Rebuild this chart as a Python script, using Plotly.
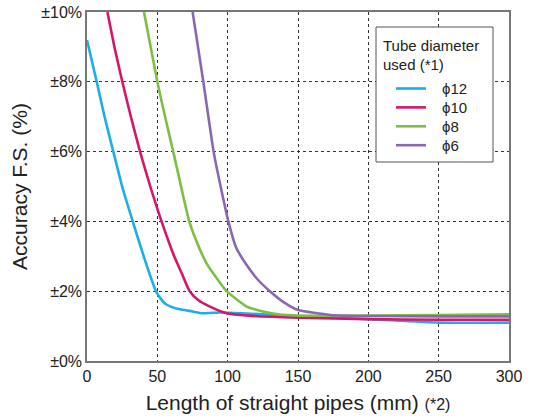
import plotly.graph_objects as go

# ---- data ----
x12 = [0, 6.9, 12.5, 18.7, 25, 32.5, 41.2, 49, 52.5, 55.4, 60, 66, 75, 82, 95, 110, 150, 200, 250, 300]
y12 = [9.2, 8.0, 7.0, 6.0, 5.0, 4.0, 2.89, 2.0, 1.78, 1.65, 1.55, 1.48, 1.42, 1.37, 1.39, 1.37, 1.28, 1.20, 1.10, 1.10]

x10 = [14.5, 19.5, 25.1, 31.2, 37.7, 45, 53, 62, 67.5, 73, 79, 87.4, 99.3, 115, 150, 200, 250, 300]
y10 = [10, 9, 8, 7, 6, 5, 4, 3.0, 2.5, 2.0, 1.75, 1.56, 1.37, 1.30, 1.24, 1.20, 1.18, 1.18]

x8 = [40.5, 50, 55.5, 61.3, 66.1, 72.7, 80, 85, 89.8, 99.3, 113.5, 125, 137, 150, 200, 250, 300]
y8 = [10, 8, 7, 6, 5.14, 4, 3.22, 2.8, 2.51, 2.0, 1.56, 1.42, 1.33, 1.30, 1.30, 1.32, 1.34]

x6 = [75.1, 82.7, 90, 95, 100.5, 106, 113.5, 121, 130, 140, 150.2, 173, 200, 250, 300]
y6 = [10, 8, 6, 5, 4, 3.25, 2.75, 2.35, 2.0, 1.68, 1.46, 1.32, 1.29, 1.28, 1.28]

series_names = ["ϕ12", "ϕ10", "ϕ8", "ϕ6"]
series_colors = ["#1AAFE6", "#D4176A", "#7BC043", "#8967B2"]

y_tickvals = [0, 2, 4, 6, 8, 10]
y_ticktext = ["±0%", "±2%", "±4%", "±6%", "±8%", "±10%"]
x_tickvals = [0, 50, 100, 150, 200, 250, 300]

legend_title = ["Tube diameter", "used (*1)"]

FONT = "Liberation Sans, Arial, sans-serif"
TXT = "#222"

W, H = 534, 419
# target plot area in window pixels: x 87..509, y 12..361 (body margin removed below)
ML, MR, MT, MB = 87, W - 509, 12, H - 361
PW, PH = W - ML - MR, H - MT - MB


def px(xw):
    # window pixel x -> paper fraction
    return (xw - ML) / PW


def py(yw):
    # window pixel y -> paper fraction
    return (H - MB - yw) / PH


fig = go.Figure()
for xs, ys, name, col in zip([x12, x10, x8, x6], [y12, y10, y8, y6], series_names, series_colors):
    fig.add_trace(go.Scatter(x=xs, y=ys, name=name, mode="lines", showlegend=False,
                             line=dict(color=col, width=2.6, shape="spline", smoothing=0.5)))

# ---- legend box (drawn manually to match the reference layout) ----
shapes = [dict(type="rect", xref="paper", yref="paper", x0=px(376), x1=px(493), y0=py(162), y1=py(27),
               fillcolor="white", line=dict(color="#555", width=1), layer="above")]
annotations = []
for i, t in enumerate(legend_title):
    annotations.append(dict(text=t, xref="paper", yref="paper", x=px(381), y=py(45.5 + 19 * i),
                            xanchor="left", yanchor="middle", showarrow=False,
                            font=dict(size=15, family=FONT, color=TXT)))
for i, (name, col) in enumerate(zip(series_names, series_colors)):
    yc = 88.5 + 18.9 * i
    shapes.append(dict(type="line", xref="paper", yref="paper", x0=px(396), x1=px(426), y0=py(yc), y1=py(yc),
                       line=dict(color=col, width=2.6), layer="above"))
    annotations.append(dict(text=name, xref="paper", yref="paper", x=px(440), y=py(yc),
                            xanchor="left", yanchor="middle", showarrow=False,
                            font=dict(size=15, family=FONT, color=TXT)))

fig.update_layout(
    width=W, height=H,
    margin=dict(l=ML, r=MR, t=MT, b=MB),
    paper_bgcolor="white", plot_bgcolor="white",
    font=dict(family=FONT, color=TXT, size=16),
    showlegend=False,
    shapes=shapes,
    annotations=annotations,
    xaxis=dict(
        range=[0, 300], tickvals=x_tickvals, ticks="", showline=True, linecolor="#777",
        linewidth=1.5, mirror=True, showgrid=True, gridcolor="#333", gridwidth=1,
        griddash="3px,3px", zeroline=False, automargin=False, ticklabeloverflow="allow",
        tickfont=dict(size=16, family=FONT, color=TXT),
        title=dict(text="Length of straight pipes (mm) <span style='font-size:16px'>(*2)</span>",
                   font=dict(size=21, family=FONT, color=TXT), standoff=11),
    ),
    yaxis=dict(
        range=[0, 10], tickvals=y_tickvals, ticktext=y_ticktext, ticks="", showline=True,
        linecolor="#777", linewidth=1.5, mirror=True, showgrid=True, gridcolor="#333",
        gridwidth=1, griddash="3px,3px", zeroline=False, automargin=False, ticklabeloverflow="allow",
        tickfont=dict(size=16, family=FONT, color=TXT),
        title=dict(text="Accuracy F.S. (%)", font=dict(size=21, family=FONT, color=TXT), standoff=8),
    ),
)

fig.write_html("out.html", config={"displayModeBar": False},
               post_script="document.body.style.margin='0';")
